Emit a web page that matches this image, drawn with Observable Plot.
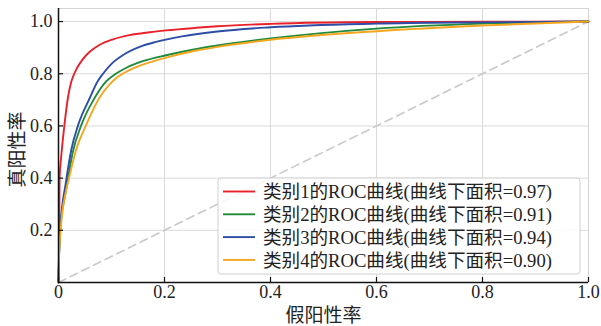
<!DOCTYPE html>
<html>
<head>
<meta charset="utf-8">
<script src="https://cdn.jsdelivr.net/npm/d3@7"></script>
<script src="https://cdn.jsdelivr.net/npm/@observablehq/plot@0.6"></script>
<style>
  html, body { margin: 0; padding: 0; background: white; }
</style>
</head>
<body>
<div id="chart"></div>
<script>
const classes = ["类别1", "类别2", "类别3", "类别4"];
const aucs = [0.97, 0.91, 0.94, 0.90];
const colors = ["#e8212b", "#1f8a3c", "#2d4ea5", "#f6a61e"];

const fpr1 = [0, 0.001, 0.002, 0.005, 0.011, 0.0177, 0.024, 0.028, 0.035, 0.046, 0.059, 0.077, 0.103, 0.134, 0.172, 0.203, 0.26, 0.3, 0.4, 0.6, 0.8, 1];
const tpr1 = [0, 0.1, 0.4, 0.48, 0.6, 0.707, 0.768, 0.792, 0.822, 0.856, 0.884, 0.91, 0.932, 0.948, 0.959, 0.966, 0.976, 0.982, 0.991, 0.998, 0.999, 1];

const fpr2 = [0, 0.001, 0.003, 0.012, 0.018, 0.027, 0.043, 0.068, 0.09, 0.106, 0.128, 0.159, 0.203, 0.258, 0.3, 0.4, 0.6, 0.8, 1];
const tpr2 = [0, 0.1, 0.2, 0.33, 0.4, 0.5, 0.603, 0.707, 0.771, 0.797, 0.823, 0.848, 0.871, 0.894, 0.908, 0.935, 0.973, 0.992, 1];

const fpr3 = [0, 0.001, 0.003, 0.0145, 0.024, 0.037, 0.059, 0.074, 0.084, 0.1, 0.122, 0.153, 0.184, 0.233, 0.3, 0.4, 0.6, 0.8, 1];
const tpr3 = [0, 0.1, 0.2, 0.39, 0.507, 0.603, 0.707, 0.771, 0.8, 0.838, 0.872, 0.903, 0.922, 0.943, 0.962, 0.978, 0.992, 0.997, 1];

const fpr4 = [0, 0.001, 0.004, 0.0145, 0.0196, 0.033, 0.052, 0.077, 0.096, 0.112, 0.134, 0.166, 0.203, 0.258, 0.3, 0.4, 0.6, 0.8, 1];
const tpr4 = [0, 0.1, 0.2, 0.353, 0.398, 0.507, 0.603, 0.707, 0.758, 0.788, 0.814, 0.84, 0.862, 0.888, 0.903, 0.93, 0.963, 0.985, 1];

const diagX = [0, 1];
const diagY = [0, 1];

const xTicks = [0, 0.2, 0.4, 0.6, 0.8, 1.0];
const yTicks = [0.2, 0.4, 0.6, 0.8, 1.0];
const xLabel = "假阳性率";
const yLabel = "真阳性率";

const series = [[fpr1, tpr1], [fpr2, tpr2], [fpr3, tpr3], [fpr4, tpr4]];
const labels = classes.map((c, i) => `${c}的ROC曲线(曲线下面积=${aucs[i].toFixed(2)})`);
const rows = [];
series.forEach(([fx, ty], i) => fx.forEach((f, j) => rows.push({fpr: f, tpr: ty[j], cls: labels[i]})));
const diag = diagX.map((x, i) => ({x, y: diagY[i]}));

const serif = "'Liberation Serif', 'Noto Sans CJK SC', serif";
const cjk = "'Noto Sans CJK SC', sans-serif";

const plot = Plot.plot({
  width: 601,
  height: 326,
  marginLeft: 58,
  marginRight: 13,
  marginTop: 8,
  marginBottom: 44,
  style: {fontFamily: serif, fontSize: "18px", background: "white", color: "#111"},
  x: {domain: [0, 1], label: null},
  y: {domain: [0, 1.05], label: null},
  color: {domain: labels, range: colors},
  marks: [
    Plot.gridX([0.2, 0.4, 0.6, 0.8], {stroke: "#dadada", strokeOpacity: 1, strokeWidth: 1}),
    Plot.gridY(yTicks, {stroke: "#dadada", strokeOpacity: 1, strokeWidth: 1}),
    Plot.frame({stroke: "#d4d4d4", strokeWidth: 1}),
    Plot.line(diag, {x: "x", y: "y", stroke: "#c9c9c9", strokeWidth: 1.6, strokeDasharray: "8,5"}),
    Plot.line(rows, {x: "fpr", y: "tpr", z: "cls", stroke: "cls", strokeWidth: 1.9, curve: "monotone-x"}),
    Plot.axisX(xTicks, {tickSize: 5, dy: -5, text: null, stroke: "#111", strokeWidth: 1.2}),
    Plot.axisY(yTicks, {tickSize: 5, dx: 5, text: null, stroke: "#111", strokeWidth: 1.2}),
    Plot.axisX(xTicks, {tickSize: 0, tickPadding: 3, tickFormat: d => d === 0 ? "0" : d.toFixed(1), fontSize: 18, fontFamily: serif, fill: "#222"}),
    Plot.axisY(yTicks, {tickSize: 0, tickPadding: 6, tickFormat: d => d.toFixed(1), fontSize: 18, fontFamily: serif, fill: "#222"}),
    Plot.ruleX([0], {stroke: "#111", strokeWidth: 1.5}),
    Plot.ruleY([0], {stroke: "#111", strokeWidth: 1.5}),
    Plot.text([xLabel], {text: d => d, frameAnchor: "bottom", dy: 39, fontSize: 19, fontFamily: cjk, fill: "#222"}),
    Plot.text([yLabel], {text: d => d, frameAnchor: "left", textAnchor: "middle", lineAnchor: "middle", dx: -41, dy: 4, rotate: -90, fontSize: 19, fontFamily: cjk, fill: "#222"})
  ]
});

const svg = d3.select(plot);
svg.selectAll('g[aria-label$="tick label"] text').attr("font-family", serif).style("font-family", serif);

// Legend (layout only)
const lg = svg.append("g").attr("text-anchor", "start");
const boxX = 218, boxY = 178, boxW = 362, boxH = 96;
lg.append("rect").attr("x", boxX).attr("y", boxY).attr("width", boxW).attr("height", boxH)
  .attr("rx", 3).attr("fill", "white").attr("fill-opacity", 0.85).attr("stroke", "#d0d0d0");
labels.forEach((lab, i) => {
  const cy = 191.5 + i * 22.8;
  lg.append("line").attr("x1", 223).attr("x2", 255).attr("y1", cy).attr("y2", cy)
    .attr("stroke", colors[i]).attr("stroke-width", 1.9);
  lg.append("text").attr("x", 263).attr("y", cy).attr("dy", "0.36em").attr("text-anchor", "start")
    .attr("font-family", serif).attr("font-size", 18.6).attr("fill", "#222").text(lab);
});

document.getElementById("chart").appendChild(plot);
</script>
</body>
</html>
